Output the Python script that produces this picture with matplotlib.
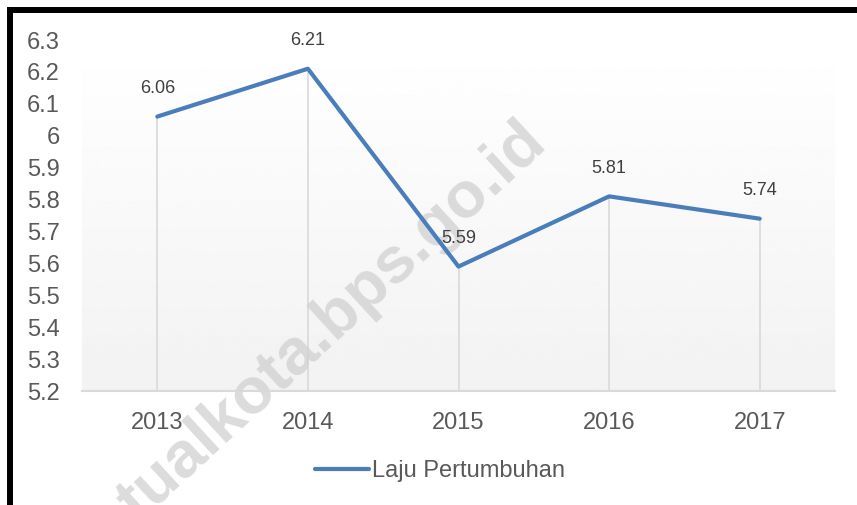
import matplotlib.pyplot as plt
import numpy as np
from matplotlib.patches import Rectangle

plt.rcParams['font.family'] = ['Liberation Sans', 'DejaVu Sans']

years = ['2013', '2014', '2015', '2016', '2017']
laju = [6.06, 6.21, 5.59, 5.81, 5.74]
yticks = [5.2, 5.3, 5.4, 5.5, 5.6, 5.7, 5.8, 5.9, 6.0, 6.1, 6.2, 6.3]
ytick_labels = ['5.2', '5.3', '5.4', '5.5', '5.6', '5.7', '5.8', '5.9', '6', '6.1', '6.2', '6.3']

W, H = 857, 505
fig = plt.figure(figsize=(W / 100, H / 100), dpi=100)
ax = fig.add_axes([82 / W, 1 - 391 / H, 753 / W, 351 / H])

x = np.arange(len(years))
ax.set_xlim(-0.5, len(years) - 0.5)
ax.set_ylim(5.2, 6.3)

# plot area gradient, white at top to light grey at bottom
grad = np.linspace(1.0, 0.949, 200).reshape(-1, 1)
ax.imshow(grad, cmap='gray', vmin=0, vmax=1, aspect='auto',
          extent=(-0.5, len(years) - 0.5, 5.2, 6.3), zorder=0)

# drop lines
ax.vlines(x, 5.2, laju, colors='#d9d9d9', linewidth=1.2, zorder=1)

line, = ax.plot(x, laju, color='#4a7ebb', linewidth=3, zorder=3,
                solid_capstyle='round', label='Laju Pertumbuhan')

for xi, v in zip(x, laju):
    ax.annotate(f'{v:.2f}', (xi, v), xytext=(0, 20), textcoords='offset points',
                ha='center', va='center', fontsize=13, color='#404040', zorder=4)

for s in ['top', 'right', 'left']:
    ax.spines[s].set_visible(False)
ax.spines['bottom'].set_color('#d9d9d9')
ax.spines['bottom'].set_linewidth(1.5)

ax.set_xticks(x)
ax.set_xticklabels(years)
ax.set_yticks(yticks)
ax.set_yticklabels(ytick_labels)
ax.tick_params(axis='x', length=0, pad=15, labelsize=17, colors='#595959')
ax.tick_params(axis='y', length=0, pad=16, labelsize=17, colors='#595959')

fig.legend(handles=[line], loc='center', bbox_to_anchor=(440 / W, 1 - 471 / H),
           frameon=False, fontsize=17, handlelength=2.3, handletextpad=0.15,
           borderpad=0, labelcolor='#595959')

# watermark, behind the line
ax.text(332 / W, 1 - 322 / H, 'tualkota.bps.go.id', fontsize=47, fontweight='bold',
        color='#d0d0d0', alpha=0.75, rotation=42.6, ha='center', va='center',
        rotation_mode='anchor', transform=fig.transFigure, clip_on=False, zorder=2)

# black frame (cut off at right and bottom)
fig.add_artist(Rectangle((10 / W, -0.2), 1.2, (H - 10) / H + 0.2, fill=False,
                         edgecolor='black', linewidth=4.3, transform=fig.transFigure))

fig.savefig('out.png', dpi=100)
